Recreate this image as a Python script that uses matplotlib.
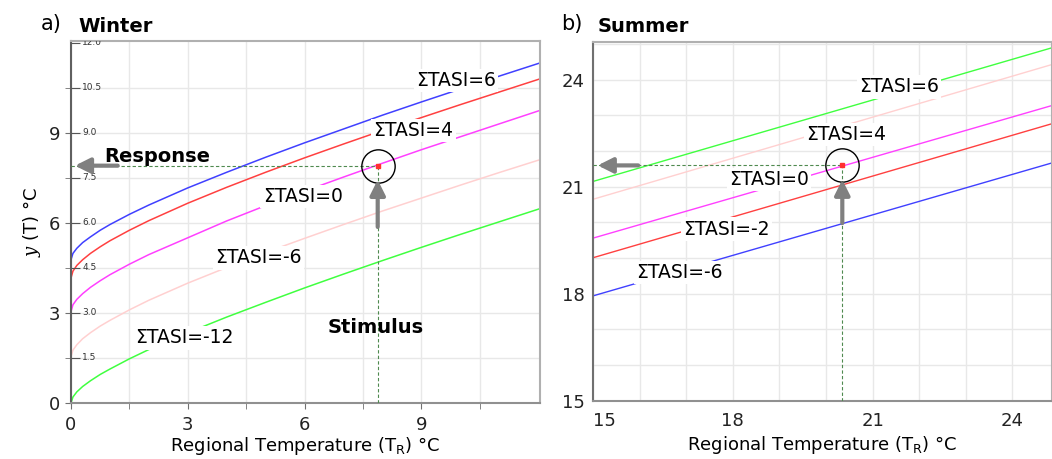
import numpy as np
import matplotlib
matplotlib.use("Agg")
import matplotlib.pyplot as plt

plt.rcParams['font.family'] = ['DejaVu Sans']
plt.rcParams['mathtext.fontset'] = 'dejavuserif'

# ---- Winter panel data ----
w_x = [0, 0.05, 0.15, 0.3, 0.5, 0.75, 1.0, 1.5, 2.0, 3.0, 4.0, 5.0, 6.0, 7.0, 8.0, 9.0, 10.0, 11.0, 12.05]
w_tasi6 = [4.77, 4.98, 5.15, 5.34, 5.53, 5.75, 5.94, 6.28, 6.59, 7.16, 7.68, 8.18, 8.66, 9.12, 9.58, 10.02, 10.45, 10.88, 11.32]
w_tasi4 = [4.16, 4.39, 4.58, 4.77, 4.98, 5.20, 5.40, 5.75, 6.07, 6.65, 7.18, 7.68, 8.16, 8.62, 9.07, 9.50, 9.93, 10.35, 10.79]
w_tasi0 = [3.04, 3.27, 3.45, 3.64, 3.85, 4.07, 4.27, 4.62, 4.94, 5.50, 6.06, 6.57, 7.05, 7.52, 7.98, 8.43, 8.86, 9.29, 9.74]
w_tasim6 = [1.54, 1.76, 1.94, 2.14, 2.34, 2.56, 2.75, 3.10, 3.42, 3.99, 4.51, 5.01, 5.48, 5.94, 6.39, 6.82, 7.25, 7.67, 8.10]
w_tasim12 = [0, 0.20, 0.37, 0.55, 0.74, 0.95, 1.13, 1.47, 1.78, 2.34, 2.86, 3.35, 3.83, 4.29, 4.74, 5.18, 5.61, 6.03, 6.47]
w_labels = ["ΣTASI=6", "ΣTASI=4", "ΣTASI=0", "ΣTASI=-6", "ΣTASI=-12"]
w_colors = ["#4040ff", "#ff4040", "#ff40ff", "#ffd0d0", "#40ff40"]
w_lab_x = [9.89, 8.8, 5.95, 4.82, 2.91]
w_lab_y = [10.74, 9.07, 6.87, 4.83, 2.17]
w_point = (7.88, 7.9)
w_inner_ticks = [1.5, 3.0, 4.5, 6.0, 7.5, 9.0, 10.5, 12.0]

# ---- Summer panel data ----
s_x = [15, 24.85]
s_tasi6 = [21.15, 24.90]
s_tasi4 = [20.65, 24.43]
s_tasi0 = [19.56, 23.28]
s_tasim2 = [19.01, 22.77]
s_tasim6 = [17.94, 21.67]
s_labels = ["ΣTASI=6", "ΣTASI=4", "ΣTASI=0", "ΣTASI=-2", "ΣTASI=-6"]
s_colors = ["#40ff40", "#ffd0d0", "#ff40ff", "#ff4040", "#4040ff"]
s_lab_x = [21.57, 20.44, 18.78, 17.86, 16.86]
s_lab_y = [23.8, 22.46, 21.2, 19.81, 18.6]
s_point = (20.35, 21.6)

fig = plt.figure(figsize=(10.52, 4.59), dpi=100)
ax1 = fig.add_axes([71/1052, 56/459, 469/1052, 362/459])
ax2 = fig.add_axes([593/1052, 58.3/459, 459/1052, 359/459])

dotc = "#4f8a4f"
arrc = "#808080"


def style(ax):
    ax.grid(True, which='both', color='#e8e8e8', lw=1, zorder=0)
    ax.set_axisbelow(True)
    for s in ['top', 'right']:
        ax.spines[s].set_color('#b0b0b0')
    ax.spines['left'].set_color('#707070')
    ax.spines['bottom'].set_color('#909090')
    for s in ax.spines.values():
        s.set_linewidth(1.5)
    ax.tick_params(labelsize=13, colors='#222222')


# ----- Winter -----
style(ax1)
ax1.spines['left'].set_color('#606060')
ax1.set_xlim(0, 12.05)
ax1.set_ylim(0, 12.05)
ax1.set_xticks([0, 3, 6, 9])
ax1.set_xticks([1.5, 4.5, 7.5, 10.5], minor=True)
ax1.set_yticks([0, 3, 6, 9])
ax1.set_yticks([1.5, 4.5, 7.5, 10.5], minor=True)
ax1.tick_params(which='both', direction='out', length=4, color='#707070')
ax1.tick_params(axis='x', pad=5)
ax1.tick_params(axis='y', pad=4)

for ys, c in zip([w_tasi6, w_tasi4, w_tasi0, w_tasim6, w_tasim12], w_colors):
    ax1.plot(w_x, ys, color=c, lw=1.1, zorder=2)

# small inner scale
ax1.hlines(w_inner_ticks, 0, 0.22, color='#555555', lw=0.8, zorder=3)
for v in w_inner_ticks:
    ax1.annotate(f"{v:.1f}", xy=(0, v), xycoords=ax1.get_yaxis_transform(),
                 xytext=(8, 0), textcoords='offset points', fontsize=6.5,
                 color='#333333', va='center', ha='left', annotation_clip=False,
                 clip_on=True)

for lab, x, y in zip(w_labels, w_lab_x, w_lab_y):
    ax1.text(x, y, lab, fontsize=13.5, ha='center', va='center', zorder=4,
             bbox=dict(boxstyle='square,pad=0.12', fc='white', ec='none'))

px, py = w_point
ax1.plot([0, px], [py, py], color=dotc, lw=0.8, ls=(0, (3, 2)), zorder=3)
ax1.plot([px, px], [0, py], color=dotc, lw=0.8, ls=(0, (3, 2)), zorder=3)
ax1.plot(px, py, marker='s', ms=3.5, color='#ff3030', zorder=5)
ax1.plot(px, py, marker='o', ms=24, mfc='none', mec='black', mew=1, zorder=5)
ax1.annotate('', xy=(0.1, py), xytext=(1.2, py),
             arrowprops=dict(arrowstyle='-|>,head_width=0.45,head_length=0.9',
                             color=arrc, lw=3, shrinkA=0, shrinkB=0), zorder=5)
ax1.annotate('', xy=(px, 7.43), xytext=(px, 5.86),
             arrowprops=dict(arrowstyle='-|>,head_width=0.45,head_length=0.9',
                             color=arrc, lw=3, shrinkA=0, shrinkB=0), zorder=5)
ax1.text(2.21, 8.01, "Response", fontsize=14, fontweight='bold', ha='center', va='baseline', zorder=6)
ax1.text(7.83, 2.32, "Stimulus", fontsize=14, fontweight='bold', ha='center', va='baseline', zorder=6)

ax1.set_xlabel("Regional Temperature (T$_\\mathregular{R}$) °C", fontsize=13, labelpad=1)
ax1.set_ylabel("$y$ (T) °C", fontsize=13, labelpad=4)

# ----- Summer -----
style(ax2)
ax2.set_xlim(15, 24.85)
ax2.set_ylim(15, 25.07)
ax2.set_xticks([15, 18, 21, 24])
ax2.set_xticks(np.arange(16, 25, 1), minor=True)
ax2.set_yticks([15, 18, 21, 24])
ax2.set_yticks(np.arange(16, 26, 1), minor=True)
ax2.tick_params(which='both', length=0)
ax2.tick_params(axis='x', pad=8)
ax2.tick_params(axis='y', pad=6)
ax2.get_xticklabels()[0].set_ha('left')

for ys, c in zip([s_tasi6, s_tasi4, s_tasi0, s_tasim2, s_tasim6], s_colors):
    ax2.plot(s_x, ys, color=c, lw=1.0, zorder=2)

for lab, x, y in zip(s_labels, s_lab_x, s_lab_y):
    ax2.text(x, y, lab, fontsize=13.5, ha='center', va='center', zorder=4,
             bbox=dict(boxstyle='square,pad=0.12', fc='white', ec='none'))

px, py = s_point
ax2.plot([15, px], [py, py], color=dotc, lw=0.8, ls=(0, (3, 2)), zorder=3)
ax2.plot([px, px], [15, py], color=dotc, lw=0.8, ls=(0, (3, 2)), zorder=3)
ax2.plot(px, py, marker='s', ms=3.5, color='#ff3030', zorder=5)
ax2.plot(px, py, marker='o', ms=24, mfc='none', mec='black', mew=1, zorder=5)
ax2.annotate('', xy=(15.1, py), xytext=(15.97, py),
             arrowprops=dict(arrowstyle='-|>,head_width=0.45,head_length=0.9',
                             color=arrc, lw=3, shrinkA=0, shrinkB=0), zorder=5)
ax2.annotate('', xy=(px, 21.2), xytext=(px, 19.98),
             arrowprops=dict(arrowstyle='-|>,head_width=0.45,head_length=0.9',
                             color=arrc, lw=3, shrinkA=0, shrinkB=0), zorder=5)
ax2.set_xlabel("Regional Temperature (T$_\\mathregular{R}$) °C", fontsize=13, labelpad=3)

# panel titles
fig.text(41/1052, 1 - 24/459, "a)", fontsize=15, va='center', ha='left')
fig.text(78/1052, 1 - 27/459, "Winter", fontsize=14, fontweight='bold', va='center', ha='left')
fig.text(561/1052, 1 - 24/459, "b)", fontsize=15, va='center', ha='left')
fig.text(598/1052, 1 - 27/459, "Summer", fontsize=14, fontweight='bold', va='center', ha='left')

fig.savefig("out.png", dpi=100)
